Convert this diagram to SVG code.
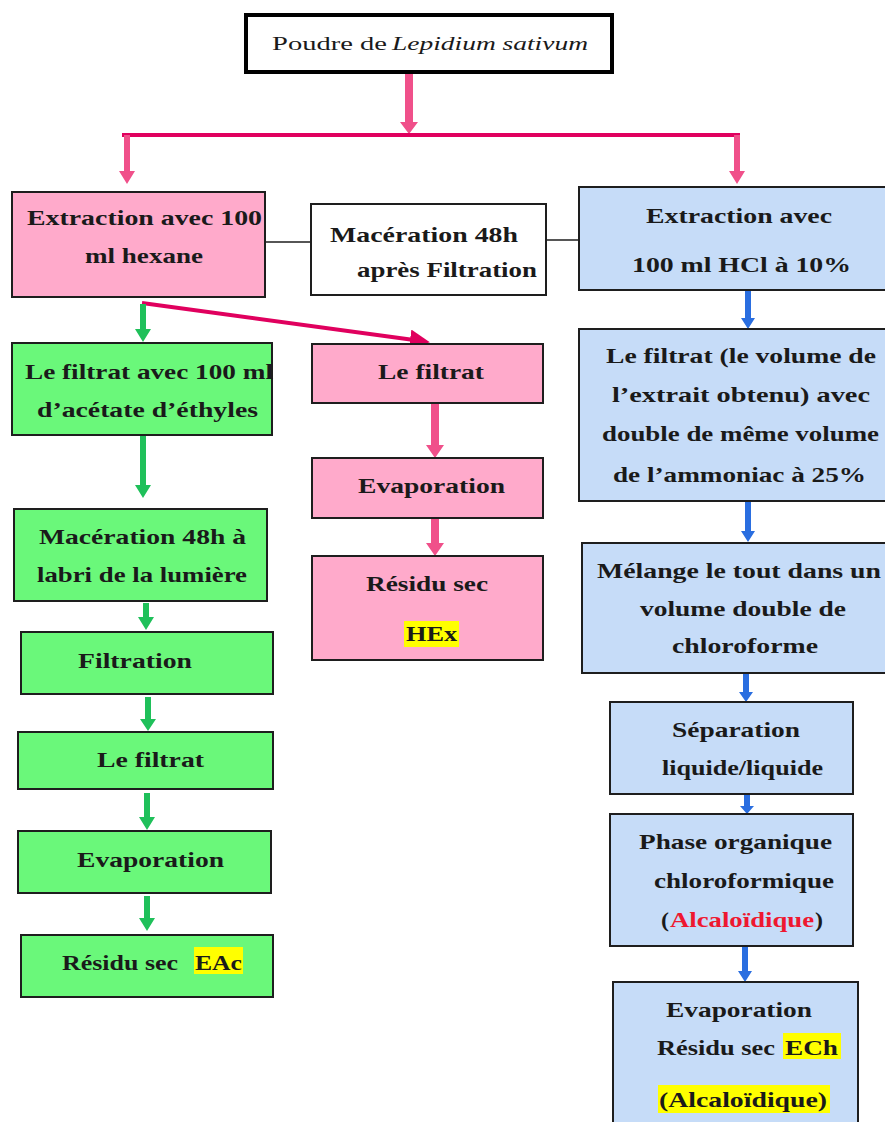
<svg xmlns="http://www.w3.org/2000/svg" width="885" height="1122" viewBox="0 0 885 1122">
<defs>
<style>
.box{stroke:#1e1e1e;stroke-width:2}
.pink{fill:#ffaacb}
.green{fill:#6af87a}
.blue{fill:#c6dcf8}
.white{fill:#ffffff}
.t{font-family:"Liberation Serif","Times New Roman",serif;font-weight:bold;font-size:21px;fill:#1a1a1a}
.tn{font-family:"Liberation Serif","Times New Roman",serif;font-size:19px;fill:#1a1a1a}
.red{fill:#ee1830}
.hl{fill:#ffff00}
.pa{fill:#f0508a}
.ga{fill:#1fc05a}
.ba{fill:#2a6ee0}
.pl{stroke:#e0005e;stroke-width:4;fill:none}
.bl{stroke:#1e1e1e;stroke-width:1.5;fill:none}
</style>
<marker id="ph" markerWidth="5" markerHeight="5" refX="1" refY="2.5" orient="auto" markerUnits="strokeWidth">
<path d="M0,0 L5,2.5 L0,5 Z" fill="#e0005e"/>
</marker>
</defs>
<rect width="885" height="1122" fill="#ffffff"/>

<g id="connectors">
<path class="pa" d="M405,73 L413,73 L413,122 L418,122 L409,134 L400,122 L405,122 Z"/>
<line class="pl" x1="122" y1="135" x2="740" y2="135"/>
<path class="pa" d="M124,135 L130,135 L130,171 L135,171 L127,184 L119,171 L124,171 Z"/>
<path class="pa" d="M734,135 L740,135 L740,171 L745,171 L737,184 L729,171 L734,171 Z"/>
<line class="bl" x1="265" y1="242" x2="311" y2="242"/>
<line class="bl" x1="546" y1="240" x2="579" y2="240"/>
<line class="pl" x1="142" y1="303" x2="414" y2="340" marker-end="url(#ph)"/>
<path class="ga" d="M140,304 L146,304 L146,329 L151,329 L143,342 L135,329 L140,329 Z"/>
<path class="ga" d="M140,436 L146,436 L146,485 L151,485 L143,498 L135,485 L140,485 Z"/>
<path class="ga" d="M143,603 L149,603 L149,617 L154,617 L146,630 L138,617 L143,617 Z"/>
<path class="ga" d="M145,697 L151,697 L151,719 L156,719 L148,731 L140,719 L145,719 Z"/>
<path class="ga" d="M144,793 L150,793 L150,817 L155,817 L147,830 L139,817 L144,817 Z"/>
<path class="ga" d="M144,896 L150,896 L150,918 L155,918 L147,931 L139,918 L144,918 Z"/>
<path class="pa" d="M431,403 L439,403 L439,445 L444,445 L435,458 L426,445 L431,445 Z"/>
<path class="pa" d="M431,518 L439,518 L439,543 L444,543 L435,556 L426,543 L431,543 Z"/>
<path class="ba" d="M745,291 L751,291 L751,318 L755,318 L748,329 L741,318 L745,318 Z"/>
<path class="ba" d="M745,502 L751,502 L751,531 L755,531 L748,542 L741,531 L745,531 Z"/>
<path class="ba" d="M743,674 L749,674 L749,692 L753,692 L746,702 L739,692 L743,692 Z"/>
<path class="ba" d="M744,794 L750,794 L750,806 L754,806 L747,814 L740,806 L744,806 Z"/>
<path class="ba" d="M742,947 L748,947 L748,971 L752,971 L745,982 L738,971 L742,971 Z"/>
</g>

<g id="n-top">
<rect x="246" y="15" width="366" height="57" fill="#ffffff" stroke="#000" stroke-width="4"/>
<text class="tn" x="272" y="50" textLength="115" lengthAdjust="spacingAndGlyphs">Poudre de</text>
<text class="tn" x="392" y="50" textLength="196" lengthAdjust="spacingAndGlyphs" font-style="italic">Lepidium sativum</text>
</g>

<g id="n-hexane">
<rect class="box pink" x="12" y="192" width="253" height="105"/>
<text class="t" x="27" y="225" textLength="235" lengthAdjust="spacingAndGlyphs">Extraction avec 100</text>
<text class="t" x="85" y="263" textLength="118" lengthAdjust="spacingAndGlyphs">ml hexane</text>
</g>

<g id="n-maceration">
<rect class="box white" x="311" y="204" width="235" height="91"/>
<text class="t" x="330" y="242" textLength="188" lengthAdjust="spacingAndGlyphs">Macération 48h</text>
<text class="t" x="357" y="277" textLength="180" lengthAdjust="spacingAndGlyphs">après Filtration</text>
</g>

<g id="n-hcl">
<rect class="box blue" x="579" y="187" width="310" height="103"/>
<text class="t" x="646" y="223" textLength="186" lengthAdjust="spacingAndGlyphs">Extraction avec</text>
<text class="t" x="632" y="272" textLength="219" lengthAdjust="spacingAndGlyphs">100 ml HCl à 10%</text>
</g>

<g id="n-g1">
<rect class="box green" x="12" y="343" width="260" height="92"/>
<text class="t" x="25" y="379" textLength="248" lengthAdjust="spacingAndGlyphs">Le filtrat avec 100 ml</text>
<text class="t" x="37" y="417" textLength="221" lengthAdjust="spacingAndGlyphs">d’acétate d’éthyles</text>
</g>

<g id="n-p1">
<rect class="box pink" x="312" y="344" width="231" height="59"/>
<text class="t" x="378" y="379" textLength="106" lengthAdjust="spacingAndGlyphs">Le filtrat</text>
</g>

<g id="n-b2">
<rect class="box blue" x="579" y="329" width="310" height="172"/>
<text class="t" x="606" y="363" textLength="270" lengthAdjust="spacingAndGlyphs">Le filtrat (le volume de</text>
<text class="t" x="612" y="402" textLength="258" lengthAdjust="spacingAndGlyphs">l’extrait obtenu) avec</text>
<text class="t" x="602" y="441" textLength="277" lengthAdjust="spacingAndGlyphs">double de même volume</text>
<text class="t" x="613" y="482" textLength="253" lengthAdjust="spacingAndGlyphs">de l’ammoniac à 25%</text>
</g>

<g id="n-g2">
<rect class="box green" x="14" y="509" width="253" height="92"/>
<text class="t" x="39" y="544" textLength="207" lengthAdjust="spacingAndGlyphs">Macération 48h à</text>
<text class="t" x="37" y="582" textLength="210" lengthAdjust="spacingAndGlyphs">labri de la lumière</text>
</g>

<g id="n-p2">
<rect class="box pink" x="312" y="458" width="231" height="60"/>
<text class="t" x="358" y="493" textLength="147" lengthAdjust="spacingAndGlyphs">Evaporation</text>
</g>

<g id="n-p3">
<rect class="box pink" x="312" y="556" width="231" height="104"/>
<text class="t" x="366" y="591" textLength="122" lengthAdjust="spacingAndGlyphs">Résidu sec</text>
<rect class="hl" x="404" y="621" width="55" height="26"/>
<text class="t" x="406" y="641" textLength="51" lengthAdjust="spacingAndGlyphs">HEx</text>
</g>

<g id="n-b3">
<rect class="box blue" x="582" y="543" width="307" height="130"/>
<text class="t" x="597" y="578" textLength="284" lengthAdjust="spacingAndGlyphs">Mélange le tout dans un</text>
<text class="t" x="640" y="616" textLength="206" lengthAdjust="spacingAndGlyphs">volume double de</text>
<text class="t" x="672" y="653" textLength="146" lengthAdjust="spacingAndGlyphs">chloroforme</text>
</g>

<g id="n-g3">
<rect class="box green" x="21" y="632" width="252" height="62"/>
<text class="t" x="78" y="668" textLength="114" lengthAdjust="spacingAndGlyphs">Filtration</text>
</g>

<g id="n-b4">
<rect class="box blue" x="610" y="702" width="243" height="92"/>
<text class="t" x="672" y="737" textLength="128" lengthAdjust="spacingAndGlyphs">Séparation</text>
<text class="t" x="662" y="775" textLength="161" lengthAdjust="spacingAndGlyphs">liquide/liquide</text>
</g>

<g id="n-g4">
<rect class="box green" x="18" y="732" width="255" height="57"/>
<text class="t" x="97" y="767" textLength="107" lengthAdjust="spacingAndGlyphs">Le filtrat</text>
</g>

<g id="n-g5">
<rect class="box green" x="18" y="831" width="253" height="62"/>
<text class="t" x="77" y="867" textLength="147" lengthAdjust="spacingAndGlyphs">Evaporation</text>
</g>

<g id="n-b5">
<rect class="box blue" x="610" y="814" width="243" height="132"/>
<text class="t" x="639" y="849" textLength="193" lengthAdjust="spacingAndGlyphs">Phase organique</text>
<text class="t" x="654" y="888" textLength="180" lengthAdjust="spacingAndGlyphs">chloroformique</text>
<text class="t" x="661" y="927" textLength="8" lengthAdjust="spacingAndGlyphs">(</text>
<text class="t red" x="670" y="927" textLength="144" lengthAdjust="spacingAndGlyphs">Alcaloïdique</text>
<text class="t" x="815" y="927" textLength="8" lengthAdjust="spacingAndGlyphs">)</text>
</g>

<g id="n-g6">
<rect class="box green" x="21" y="935" width="252" height="62"/>
<text class="t" x="62" y="970" textLength="116" lengthAdjust="spacingAndGlyphs">Résidu sec</text>
<rect class="hl" x="194" y="947" width="49" height="27"/>
<text class="t" x="195" y="970" textLength="47" lengthAdjust="spacingAndGlyphs">EAc</text>
</g>

<g id="n-b6">
<rect class="box blue" x="613" y="982" width="245" height="150"/>
<text class="t" x="666" y="1017" textLength="146" lengthAdjust="spacingAndGlyphs">Evaporation</text>
<text class="t" x="657" y="1055" textLength="118" lengthAdjust="spacingAndGlyphs">Résidu sec</text>
<rect class="hl" x="783" y="1033" width="58" height="26"/>
<text class="t" x="785" y="1055" textLength="53" lengthAdjust="spacingAndGlyphs">ECh</text>
<rect class="hl" x="658" y="1085" width="172" height="28"/>
<text class="t" x="659" y="1107" textLength="168" lengthAdjust="spacingAndGlyphs">(Alcaloïdique)</text>
</g>
</svg>
